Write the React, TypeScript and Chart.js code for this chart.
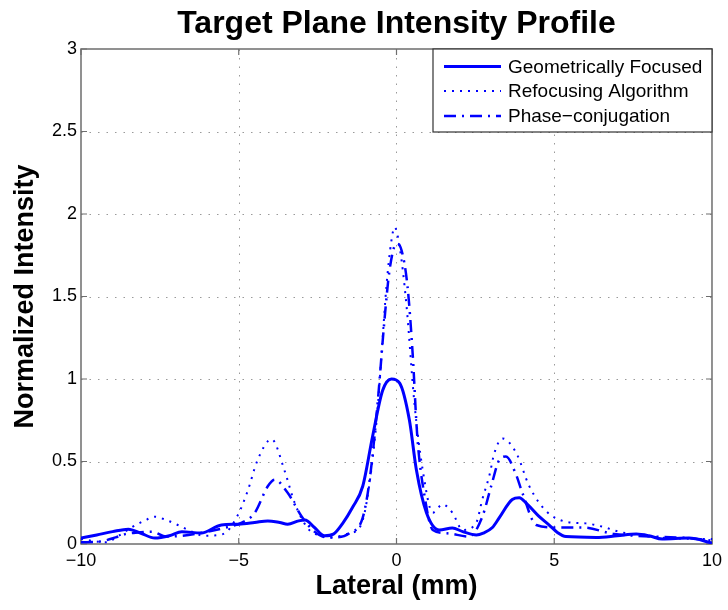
import React, { useEffect, useRef } from "react";
import { Chart, registerables } from "chart.js";

Chart.register(...registerables);

const TITLE = "Target Plane Intensity Profile";
const X_TITLE = "Lateral (mm)";
const Y_TITLE = "Normalized Intensity";
const SERIES_NAMES = ["Geometrically Focused", "Refocusing Algorithm", "Phase\u2212conjugation"];

const X_TICKS = [-10, -5, 0, 5, 10];
const Y_TICKS = [0, 0.5, 1, 1.5, 2, 2.5, 3];

const xGeo = [-10, -9.5, -9, -8.5, -8.1, -7.66, -7.2, -6.8, -6.2, -5.55, -5.0, -4.5, -4.08, -3.7, -3.45, -3.1, -2.9, -2.6, -2.28, -2.0, -1.7, -1.4, -1.07, -0.76, -0.44, -0.16, 0.1, 0.41, 0.63, 0.95, 1.36, 1.77, 2.1, 2.53, 2.75, 3.04, 3.26, 3.67, 3.89, 4.15, 4.5, 4.84, 5.1, 5.37, 6.33, 7.0, 7.6, 8.0, 8.42, 9.27, 10];
const yGeo = [0.036, 0.055, 0.075, 0.09, 0.065, 0.036, 0.05, 0.075, 0.066, 0.115, 0.12, 0.13, 0.14, 0.13, 0.12, 0.14, 0.145, 0.1, 0.05, 0.06, 0.127, 0.22, 0.35, 0.65, 0.93, 1.0, 0.975, 0.75, 0.45, 0.19, 0.085, 0.097, 0.075, 0.055, 0.066, 0.1, 0.16, 0.27, 0.28, 0.24, 0.17, 0.115, 0.07, 0.045, 0.04, 0.05, 0.06, 0.05, 0.03, 0.036, 0.006];

const xRef = [-10, -9.2, -8.8, -8.4, -8.0, -7.66, -7.3, -6.93, -6.6, -6.1, -5.5, -5.03, -4.72, -4.4, -3.96, -3.54, -3.23, -2.81, -2.5, -2.02, -1.6, -1.17, -0.95, -0.63, -0.47, -0.32, -0.16, -0.06, 0.1, 0.31, 0.57, 0.83, 1.15, 1.46, 1.77, 2.1, 2.53, 2.72, 2.95, 3.1, 3.36, 3.8, 4.21, 4.74, 5.37, 6.0, 6.52, 7.05, 7.6, 8.64, 10];
const yRef = [0.03, 0.01, 0.05, 0.1, 0.14, 0.165, 0.145, 0.115, 0.085, 0.05, 0.06, 0.175, 0.32, 0.51, 0.635, 0.44, 0.25, 0.095, 0.055, 0.04, 0.06, 0.1, 0.25, 0.75, 1.16, 1.56, 1.84, 1.92, 1.8, 1.46, 0.85, 0.45, 0.19, 0.24, 0.19, 0.085, 0.13, 0.27, 0.42, 0.55, 0.64, 0.55, 0.35, 0.2, 0.135, 0.125, 0.105, 0.075, 0.055, 0.035, 0.03];

const xPhase = [-10, -9.4, -8.9, -8.6, -8.2, -7.75, -7.3, -6.8, -6.1, -5.4, -4.9, -4.49, -4.08, -3.86, -3.45, -3.0, -2.6, -2.2, -1.9, -1.49, -1.07, -0.85, -0.6, -0.38, -0.22, 0, 0.16, 0.35, 0.51, 0.66, 0.89, 1.15, 1.6, 2.31, 2.72, 3.0, 3.26, 3.47, 3.77, 3.99, 4.43, 5.06, 5.9, 6.9, 7.6, 9.3, 10];
const yPhase = [0.01, 0.015, 0.04, 0.06, 0.07, 0.075, 0.045, 0.05, 0.07, 0.1, 0.13, 0.19, 0.35, 0.39, 0.31, 0.165, 0.075, 0.04, 0.04, 0.065, 0.16, 0.39, 0.85, 1.36, 1.66, 1.82, 1.78, 1.56, 1.16, 0.65, 0.29, 0.085, 0.065, 0.045, 0.165, 0.35, 0.51, 0.53, 0.43, 0.31, 0.115, 0.1, 0.1, 0.06, 0.05, 0.035, 0.02];

const BLUE = "#0000ff";
const FONT = "'Liberation Sans', Arial, Helvetica, sans-serif";
const DASHES: number[][] = [[], [2, 6], [12, 6, 2, 6]];
const WIDTHS = [3, 2, 2.5];

const toPts = (xs: number[], ys: number[]) => xs.map((x, i) => ({ x, y: ys[i] }));
const fmt = (v: number) => (v < 0 ? "\u2212" + Math.abs(v) : String(v));

const decorPlugin = {
  id: "decor",
  beforeDraw(chart: any) {
    const ctx = chart.ctx;
    ctx.save();
    ctx.fillStyle = "#ffffff";
    ctx.fillRect(0, 0, chart.width, chart.height);
    ctx.restore();
  },
  beforeDatasetsDraw(chart: any) {
    const { ctx, chartArea: a, scales } = chart;
    const xs = scales.x, ys = scales.y;
    ctx.save();
    ctx.strokeStyle = "#9a9a9a";
    ctx.lineWidth = 1;
    ctx.setLineDash([1.5, 7]);
    X_TICKS.slice(1, -1).forEach((v) => {
      const px = Math.round(xs.getPixelForValue(v)) + 0.5;
      ctx.beginPath();
      ctx.moveTo(px, a.bottom);
      ctx.lineTo(px, a.top);
      ctx.stroke();
    });
    Y_TICKS.slice(1, -1).forEach((v) => {
      const py = Math.round(ys.getPixelForValue(v)) + 0.5;
      ctx.beginPath();
      ctx.moveTo(a.left, py);
      ctx.lineTo(a.right, py);
      ctx.stroke();
    });
    ctx.setLineDash([]);
    ctx.strokeStyle = "#6e6e6e";
    ctx.lineWidth = 1.5;
    ctx.strokeRect(a.left, a.top, a.right - a.left, a.bottom - a.top);
    const tl = 6;
    ctx.lineWidth = 1.2;
    X_TICKS.forEach((v) => {
      const px = xs.getPixelForValue(v);
      ctx.beginPath();
      ctx.moveTo(px, a.bottom);
      ctx.lineTo(px, a.bottom - tl);
      ctx.moveTo(px, a.top);
      ctx.lineTo(px, a.top + tl);
      ctx.stroke();
    });
    Y_TICKS.forEach((v) => {
      const py = ys.getPixelForValue(v);
      ctx.beginPath();
      ctx.moveTo(a.left, py);
      ctx.lineTo(a.left + tl, py);
      ctx.moveTo(a.right, py);
      ctx.lineTo(a.right - tl, py);
      ctx.stroke();
    });
    ctx.restore();
  },
  afterDatasetsDraw(chart: any) {
    const { ctx, chartArea: a } = chart;
    ctx.save();
    // legend
    const lx = 433, ly = a.top, lw = a.right - 433, lh = 83;
    ctx.fillStyle = "#ffffff";
    ctx.fillRect(lx, ly, lw, lh);
    ctx.strokeStyle = "#333333";
    ctx.lineWidth = 1.2;
    ctx.strokeRect(lx, ly, lw, lh);
    const rows = [ly + 17.5, ly + 42, ly + 67];
    chart.data.datasets.forEach((ds: any, i: number) => {
      ctx.strokeStyle = ds.borderColor;
      ctx.lineWidth = ds.borderWidth;
      ctx.setLineDash(ds.borderDash || []);
      ctx.beginPath();
      ctx.moveTo(444, rows[i]);
      ctx.lineTo(501, rows[i]);
      ctx.stroke();
      ctx.setLineDash([]);
      ctx.fillStyle = "#000000";
      ctx.font = "19px " + FONT;
      ctx.textAlign = "left";
      ctx.textBaseline = "middle";
      ctx.fillText(ds.label, 508, rows[i] + 1);
    });
    // titles
    const cx = (a.left + a.right) / 2;
    const cy = (a.top + a.bottom) / 2;
    ctx.fillStyle = "#000000";
    ctx.textAlign = "center";
    ctx.textBaseline = "alphabetic";
    ctx.font = "bold 32px " + FONT;
    ctx.fillText(TITLE, cx, 33);
    ctx.font = "bold 27px " + FONT;
    ctx.fillText(X_TITLE, cx, 594);
    ctx.translate(33, cy);
    ctx.rotate(-Math.PI / 2);
    ctx.fillText(Y_TITLE, 0, 0);
    ctx.restore();
  },
};

export default function App() {
  const ref = useRef<HTMLCanvasElement | null>(null);
  useEffect(() => {
    if (!ref.current) return;
    const seriesX = [xGeo, xRef, xPhase];
    const seriesY = [yGeo, yRef, yPhase];
    const chart = new Chart(ref.current, {
      type: "line",
      data: {
        datasets: SERIES_NAMES.map((name, i) => ({
          label: name,
          data: toPts(seriesX[i], seriesY[i]),
          borderColor: BLUE,
          backgroundColor: BLUE,
          borderWidth: WIDTHS[i],
          borderDash: DASHES[i],
          pointRadius: 0,
          fill: false,
          cubicInterpolationMode: "monotone",
        })),
      },
      options: {
        animation: false,
        responsive: false,
        devicePixelRatio: 1,
        layout: { padding: { left: 0, right: 15, top: 49, bottom: 0 } },
        plugins: { legend: { display: false }, title: { display: false }, tooltip: { enabled: false } },
        scales: {
          x: {
            type: "linear",
            min: -10,
            max: 10,
            grid: { display: false, drawTicks: false },
            border: { display: false },
            afterFit: (s: any) => { s.height = 66; },
            afterBuildTicks: (s: any) => { s.ticks = X_TICKS.map((v) => ({ value: v })); },
            ticks: {
              color: "#000",
              font: { family: FONT, size: 18 },
              padding: 6,
              maxRotation: 0,
              callback: (v: any) => fmt(Number(v)),
            },
          },
          y: {
            type: "linear",
            min: 0,
            max: 3,
            grid: { display: false, drawTicks: false },
            border: { display: false },
            afterFit: (s: any) => { s.width = 81; },
            afterBuildTicks: (s: any) => { s.ticks = Y_TICKS.map((v) => ({ value: v })); },
            ticks: {
              color: "#000",
              font: { family: FONT, size: 18 },
              padding: 4,
              callback: (v: any) => fmt(Number(v)),
            },
          },
        },
      },
      plugins: [decorPlugin],
    } as any);
    return () => chart.destroy();
  }, []);
  return (
    <div style={{ position: "fixed", left: 0, top: 0, width: 728, height: 610, background: "#fff" }}>
      <canvas ref={ref} width={728} height={610} style={{ width: 728, height: 610, display: "block" }} />
    </div>
  );
}
